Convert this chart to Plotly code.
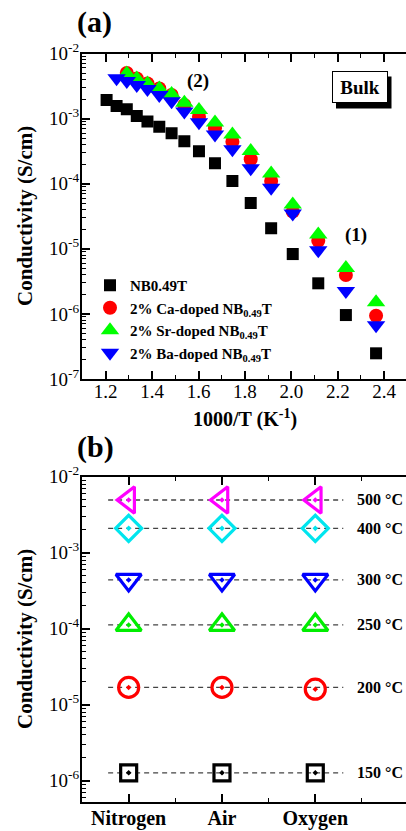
import math
import plotly.graph_objects as go

# ---------------- Panel (a) data ----------------
inv_T = [1.204, 1.247, 1.291, 1.334, 1.380, 1.431, 1.484, 1.539, 1.602,
         1.671, 1.746, 1.825, 1.913, 2.006, 2.116, 2.235, 2.365]
sigma_nbt = [1.93e-3, 1.56e-3, 1.39e-3, 1.10e-3, 9.0e-4, 7.5e-4, 5.95e-4, 4.5e-4,
             3.15e-4, 2.06e-4, 1.10e-4, 5.06e-5, 2.07e-5, 8.3e-6, 2.95e-6, 9.6e-7, 2.48e-7]
inv_T_ca = [1.291, 1.334, 1.380, 1.431, 1.484, 1.539, 1.602, 1.671, 1.746,
            1.825, 1.913, 2.006, 2.116, 2.235, 2.365]
sigma_ca = [5.01e-3, 4.13e-3, 3.46e-3, 2.90e-3, 2.31e-3, 1.62e-3, 1.07e-3, 7.10e-4,
            4.42e-4, 2.37e-4, 1.10e-4, 3.72e-5, 1.33e-5, 3.95e-6, 9.37e-7]
inv_T_sr = [1.291, 1.334, 1.380, 1.431, 1.484, 1.539, 1.602, 1.671, 1.746,
            1.825, 1.913, 2.006, 2.116, 2.235, 2.365]
sigma_sr = [4.94e-3, 4.14e-3, 3.47e-3, 2.90e-3, 2.39e-3, 1.75e-3, 1.35e-3, 8.73e-4,
            5.71e-4, 3.17e-4, 1.44e-4, 4.80e-5, 1.66e-5, 5.06e-6, 1.51e-6]
inv_T_ba = [1.247, 1.291, 1.334, 1.380, 1.431, 1.484, 1.539, 1.602, 1.671,
            1.746, 1.825, 1.913, 2.006, 2.116, 2.235, 2.365]
sigma_ba = [4.16e-3, 3.77e-3, 3.28e-3, 2.84e-3, 2.30e-3, 1.84e-3, 1.29e-3, 8.76e-4,
            5.72e-4, 3.37e-4, 1.72e-4, 8.63e-5, 3.50e-5, 9.47e-6, 2.25e-6, 6.68e-7]
legend_names = ["<b>NB0.49T</b>",
                "<b>2% Ca-doped NB<sub>0.49</sub>T</b>",
                "<b>2% Sr-doped NB<sub>0.49</sub>T</b>",
                "<b>2% Ba-doped NB<sub>0.49</sub>T</b>"]
x_ticks_a = [1.2, 1.4, 1.6, 1.8, 2.0, 2.2, 2.4]
x_ticktext_a = ["1.2", "1.4", "1.6", "1.8", "2.0", "2.2", "2.4"]

# ---------------- Panel (b) data ----------------
gas_labels = ["Nitrogen", "Air", "Oxygen"]
gas_pos = [1, 2, 3]
temp_labels = ["500 °C", "400 °C", "300 °C", "250 °C", "200 °C", "150 °C"]
sigma_500 = [4.94e-3, 4.94e-3, 4.94e-3]
sigma_400 = [2.09e-3, 2.09e-3, 2.09e-3]
sigma_300 = [4.38e-4, 4.38e-4, 4.38e-4]
sigma_250 = [1.12e-4, 1.12e-4, 1.12e-4]
sigma_200 = [1.69e-5, 1.69e-5, 1.60e-5]
sigma_150 = [1.27e-6, 1.27e-6, 1.27e-6]

FONT = "Liberation Serif, Times New Roman, serif"
fig = go.Figure()

# Panel (a) traces
series_a = [
    (inv_T, sigma_nbt, "square", 12, "#000000"),
    (inv_T_ca, sigma_ca, "circle", 14, "#FF0000"),
    (inv_T_sr, sigma_sr, "triangle-up", 16, "#00FF00"),
    (inv_T_ba, sigma_ba, "triangle-down", 16, "#0000FF"),
]
for (xs, ys, sym, sz, col), name in zip(series_a, legend_names):
    fig.add_trace(go.Scatter(
        x=xs, y=ys, mode="markers", name=name, xaxis="x", yaxis="y",
        marker=dict(symbol=sym, size=sz, color=col, line=dict(width=0)),
    ))

# Panel (b) traces
series_b = [
    (sigma_500, "triangle-left-open-dot", 23, "#FF00FF"),
    (sigma_400, "diamond-open-dot", 20, "#00E5EE"),
    (sigma_300, "triangle-down-open-dot", 22, "#0000FF"),
    (sigma_250, "triangle-up-open-dot", 22, "#00EE00"),
    (sigma_200, "circle-open-dot", 20, "#FF0000"),
    (sigma_150, "square-open-dot", 16, "#000000"),
]
guide_extent = [0.78, 3.30]
for ys, sym, sz, col in series_b:
    fig.add_trace(go.Scatter(
        x=guide_extent, y=[ys[0], ys[0]], mode="lines", showlegend=False,
        xaxis="x2", yaxis="y2", hoverinfo="skip",
        line=dict(color="#444444", width=1.3, dash="5px,4px"),
    ))
for ys, sym, sz, col in series_b:
    fig.add_trace(go.Scatter(
        x=gas_pos, y=ys, mode="markers", showlegend=False, xaxis="x2", yaxis="y2",
        marker=dict(symbol=sym, size=sz, color=col, line=dict(width=3.2, color=col)),
    ))

# temperature labels panel (b)
annotations = []
for (ys, sym, sz, col), lab in zip(series_b, temp_labels):
    annotations.append(dict(
        x=3.962, y=math.log10(ys[0]), xref="x2", yref="y2", text="<b>%s</b>" % lab,
        showarrow=False, xanchor="right", yanchor="middle",
        font=dict(family=FONT, size=16, color="black")))

W, H = 406, 831
def px(x):
    return x / W
def py(y):
    return (H - y) / H

def pa(text, x, y, size, angle=0):
    return dict(x=x, y=y, xref="paper", yref="paper", text=text, showarrow=False,
                xanchor="center", yanchor="middle", textangle=angle,
                font=dict(family=FONT, size=size, color="black"))

annotations += [
    pa("<b>(a)</b>", px(94), py(22), 30),
    pa("<b>(b)</b>", px(95), py(447), 30),
    pa("<b>(2)</b>", px(198), py(81), 19),
    pa("<b>(1)</b>", px(355.5), py(235), 19),
    pa("<b>Conductivity (S/cm)</b>", px(25), py(216), 21, -90),
    pa("<b>Conductivity (S/cm)</b>", px(25), py(639), 21, -90),
    pa("<b>1000/T (K<sup>-1</sup>)</b>", px(245), py(418), 20),
]
annotations.append(dict(
    x=px(359.5), y=py(87.5), xref="paper", yref="paper", text="<b>Bulk</b>",
    showarrow=False, xanchor="center", yanchor="middle", width=54, height=30,
    bgcolor="white", bordercolor="black", borderwidth=1, borderpad=0,
    font=dict(family=FONT, size=19, color="black")))

shapes = [dict(type="rect", xref="paper", yref="paper",
               x0=px(336), x1=px(391.5), y0=py(108.5), y1=py(76.5),
               fillcolor="black", line=dict(width=0), layer="above")]

minor_log_a = [k * 10.0 ** e for e in range(-7, -2) for k in range(2, 10)]
minor_log_b = [k * 10.0 ** e for e in range(-7, -2) for k in range(2, 10)]

axis_common = dict(showgrid=False, zeroline=False, showline=True, linecolor="black",
                   linewidth=2, ticks="inside", tickcolor="black", tickwidth=1.5,
                   ticklen=8, automargin=False)
tick_font = dict(family=FONT, size=19, color="black")

fig.update_layout(
    width=W, height=H, margin=dict(l=0, r=0, t=0, b=0),
    paper_bgcolor="white", plot_bgcolor="white", template="none",
    showlegend=True,
    legend=dict(x=px(90), y=py(269), xanchor="left", yanchor="top",
                bgcolor="rgba(0,0,0,0)", font=dict(family=FONT, size=15, color="black"),
                itemwidth=30, tracegroupgap=0),
    xaxis=dict(domain=[px(82), 1.0], range=[1.098, 2.494], anchor="y", mirror="ticks",
               tickmode="array", tickvals=x_ticks_a, ticktext=x_ticktext_a,
               tickfont=tick_font, ticklabelstandoff=-6,
               minor=dict(tick0=1.1, dtick=0.1, ticks="inside", ticklen=4,
                          tickcolor="black", tickwidth=1.2, showgrid=False),
               **axis_common),
    yaxis=dict(domain=[py(379), py(53.5)], type="log", range=[-7, -2], anchor="x",
               mirror=False, tickmode="array", tickfont=tick_font, ticklabelstandoff=-3,
               tickvals=[1e-7, 1e-6, 1e-5, 1e-4, 1e-3, 1e-2],
               ticktext=["10<sup>-7</sup>", "10<sup>-6</sup>", "10<sup>-5</sup>",
                         "10<sup>-4</sup>", "10<sup>-3</sup>", "10<sup>-2</sup>"],
               minor=dict(tickmode="array", tickvals=minor_log_a, ticks="inside", ticklen=4,
                          tickcolor="black", tickwidth=1.2, showgrid=False),
               **axis_common),
    xaxis2=dict(domain=[px(82), 1.0], range=[0.5, 3.972], anchor="y2", mirror="ticks",
                tickmode="array", tickvals=gas_pos, ticklabelstandoff=-3,
                ticktext=["<b>%s</b>" % g for g in gas_labels],
                tickfont=dict(family=FONT, size=20, color="black"),
                minor=dict(tick0=0.5, dtick=0.5, ticks="inside", ticklen=4,
                           tickcolor="black", tickwidth=1.2, showgrid=False),
                **axis_common),
    yaxis2=dict(domain=[py(802), py(476.7)], type="log", range=[-6.28, -2], anchor="x2",
                mirror=False, tickmode="array", tickfont=tick_font, ticklabelstandoff=-3,
                tickvals=[1e-6, 1e-5, 1e-4, 1e-3, 1e-2],
                ticktext=["10<sup>-6</sup>", "10<sup>-5</sup>", "10<sup>-4</sup>",
                          "10<sup>-3</sup>", "10<sup>-2</sup>"],
                minor=dict(tickmode="array", tickvals=minor_log_b, ticks="inside", ticklen=4,
                           tickcolor="black", tickwidth=1.2, showgrid=False),
                **axis_common),
    annotations=annotations,
    shapes=shapes,
)

fig.write_html("out.html", config={"displayModeBar": False},
               post_script="document.body.style.margin='0';document.body.style.overflow='hidden';")
